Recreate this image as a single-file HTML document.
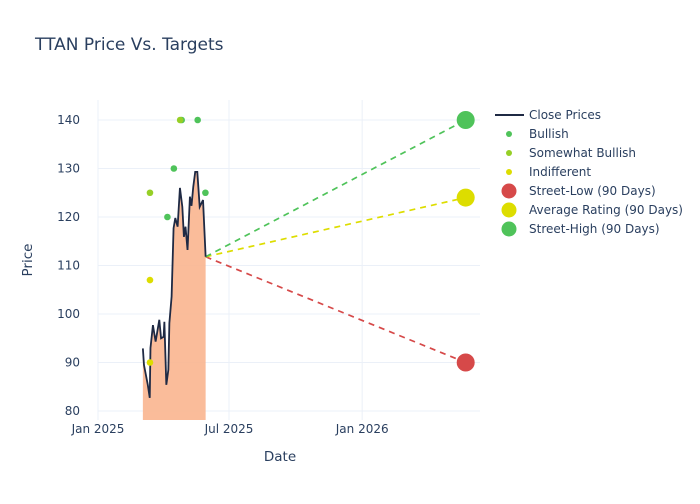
<!DOCTYPE html>
<html><head><meta charset="utf-8"><style>
body{margin:0;background:#fff;font-family:"DejaVu Sans",sans-serif}
svg text{font-family:"DejaVu Sans",sans-serif;fill:#2a3f5f}
</style></head><body>
<svg id="chart" width="700" height="500">
<text x="35" y="50" font-size="17">TTAN Price Vs. Targets</text>
<g id="grid"></g><g id="marks"></g><g id="legend"></g>
<text x="280" y="461" font-size="13.5" text-anchor="middle">Date</text>
<text x="32" y="260" font-size="13.5" text-anchor="middle" transform="rotate(-90 32 260)">Price</text>
</svg>
<script>
const closeDays=[62,63.5,68.8,71.5,72.5,75.9,79.6,84.7,87.1,90.7,91.7,94.4,97.2,98.6,101.7,104.4,106.8,110,113.2,116.5,118.7,120.9,123.7,127,129.2,131.6,134.3,137.2,140.5,145.1,148.7];
const closePrices=[92.9,89.5,85.4,82.7,93,97.7,94.3,98.8,95,95.3,98.4,85.4,88.5,98.1,103.6,117.7,119.8,118,126,122.1,115.9,118,113.2,124.2,122.3,126.2,129.3,129.3,122.1,123.5,111.8];
const bullishDays=[148.4,95.9,104.8,115.6,137.7];
const bullishVals=[125,120,130,140,140];
const swBullishDays=[71.8,113.5];
const swBullishVals=[125,140];
const indiffDays=[71.8,71.8];
const indiffVals=[107,90];
const targetDay=508;
const targetNames=["Street-Low (90 Days)","Average Rating (90 Days)","Street-High (90 Days)"];
const targetVals=[90,124,140];
const targetColors=["#d64949","#dddd00","#4fc35a"];
const lineColors=["#d64949","#dddd00","#4fc35a"];
const yTicks=[80,90,100,110,120,130,140];
const xTickDays=[0,181,365];
const xTickLabels=["Jan 2025","Jul 2025","Jan 2026"];
const X=d=>98+d*0.7238, Y=v=>120+(140-v)*4.85;
const NS="http://www.w3.org/2000/svg";
function mk(p,t,a){const e=document.createElementNS(NS,t);for(const k in a)e.setAttribute(k,a[k]);p.appendChild(e);return e;}
const grid=document.getElementById('grid'),marks=document.getElementById('marks'),leg=document.getElementById('legend');
yTicks.forEach(v=>{const l=mk(grid,'line',{x1:98,x2:480,y1:Y(v),y2:Y(v),stroke:'#ebf0f8'});


const t=mk(grid,'text',{x:80,y:Y(v)+4,'font-size':12,'text-anchor':'end'});t.textContent=v;

});
xTickDays.forEach((d,i)=>{const l=mk(grid,'line',{x1:X(d),x2:X(d),y1:100,y2:420,stroke:'#ebf0f8'});


const t=mk(grid,'text',{x:X(d),y:433,'font-size':12,'text-anchor':'middle'});t.textContent=xTickLabels[i];

});
let pts=closeDays.map((d,i)=>X(d)+','+Y(closePrices[i])).join(' ');
const area=mk(marks,'polygon',{points:X(closeDays[0])+',420 '+pts+' '+X(closeDays[closeDays.length-1])+',420',fill:'#f9b58f',opacity:0.9});


const last=closeDays.length-1;
targetVals.forEach((v,i)=>{const l=mk(marks,'line',{x1:X(closeDays[last]),y1:Y(closePrices[last]),x2:X(targetDay),y2:Y(v),stroke:lineColors[i],'stroke-width':1.7,'stroke-dasharray':'6,5'});

});
const cl=mk(marks,'polyline',{points:pts,fill:'none',stroke:'#1f2a44','stroke-width':1.8});


function dots(days,vals,col,name){days.forEach((d,i)=>{const c=mk(marks,'circle',{cx:X(d),cy:Y(vals[i]),r:3.3,fill:col});

});}
dots(bullishDays,bullishVals,'#4fc35a','bullish-point');
dots(swBullishDays,swBullishVals,'#96cf26','somewhat-bullish-point');
dots(indiffDays,indiffVals,'#dddd00','indifferent-point');
targetVals.forEach((v,i)=>{const c=mk(marks,'circle',{cx:X(targetDay),cy:Y(v),r:9,fill:targetColors[i]});

});
const items=[['line','#1f2a44','Close Prices'],['dot','#4fc35a','Bullish'],['dot','#96cf26','Somewhat Bullish'],['dot','#dddd00','Indifferent'],['big','#d64949','Street-Low (90 Days)'],['big','#dddd00','Average Rating (90 Days)'],['big','#4fc35a','Street-High (90 Days)']];
items.forEach((it,i)=>{const y=115+i*19;const g=mk(leg,'g',{});


if(it[0]=='line')mk(g,'line',{x1:495,x2:524,y1:y,y2:y,stroke:it[1],'stroke-width':2});
else mk(g,'circle',{cx:509,cy:y,r:it[0]=='big'?7.5:3,fill:it[1]});
const t=mk(g,'text',{x:529,y:y+4,'font-size':12});t.textContent=it[2];});
</script>
</body></html>
